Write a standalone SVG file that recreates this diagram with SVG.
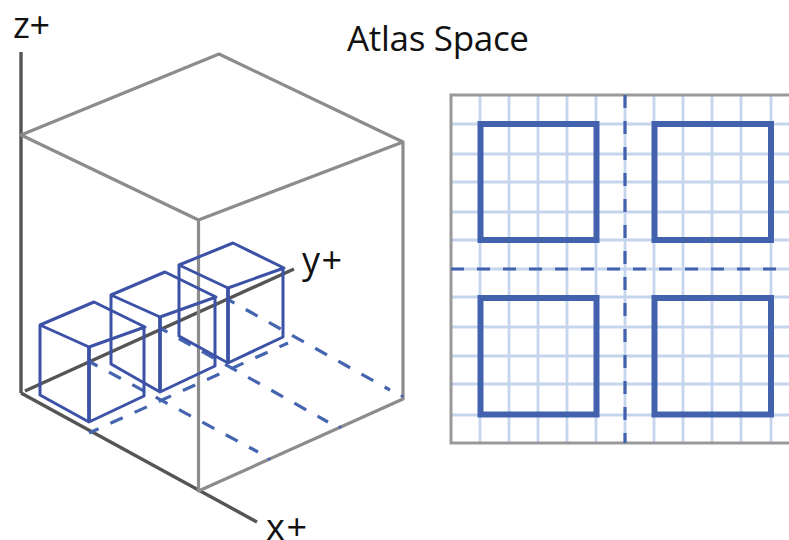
<svg xmlns="http://www.w3.org/2000/svg" width="789" height="540" viewBox="0 0 789 540">
<style>
.t{font-family:"Open Sans","Noto Sans","Liberation Sans",sans-serif;fill:#111}
.box{fill:none;stroke:#8c8c8c;stroke-width:3.2;stroke-linejoin:round}
.axis{fill:none;stroke:#555;stroke-width:3.4}
.cube{fill:none;stroke:#3c52a6;stroke-width:3;stroke-linejoin:round}
.cubev{fill:none;stroke:#3c52a6;stroke-width:3.8}
.floor{fill:none;stroke:#4565b0;stroke-width:3.2;stroke-dasharray:13.500 13}
.dot{fill:#4565b0}
.grid{fill:none;stroke:#c5d5ee;stroke-width:2.8}
.mid{fill:none;stroke:#4262ae;stroke-width:3.200;stroke-dasharray:13 13}
.sq{fill:none;stroke:#4262ae;stroke-width:6}
.frame{fill:none;stroke:#999;stroke-width:3}
</style>
<rect width="789" height="540" fill="#fff"/>
<g id="connectors">
<path class="axis" d="M21 52V393M21 393L257 522M25 391L294 269"/>
</g>
<g id="atlas-box">
<path class="box" d="M21 135L219 54L403 142L198.500 220ZM198.500 220V491L403 399V142"/>
</g>
<g id="floor-lines">
<path class="floor" stroke-dashoffset="3" d="M89 433L288 343"/>
<path class="floor" stroke-dashoffset="5" d="M90 362L258 452"/>
<path class="floor" stroke-dashoffset="5" d="M160 328L328 422"/>
<path class="floor" stroke-dashoffset="5" d="M227 299L390 390"/>
<circle class="dot" cx="269" cy="459" r="1.6"/>
<circle class="dot" cx="340" cy="427" r="1.6"/>
<circle class="dot" cx="402" cy="396" r="1.6"/>
</g>
<g id="cube-1">
<path class="cube" d="M40 325L94 302L145 327L89 347ZM40 325V395L89 422L144 396V327"/>
<path class="cubev" d="M89 347V422"/>
</g>
<g id="cube-2">
<path class="cube" d="M111 295L165 272L216 297L160 317ZM111 295V364L160 392L215 366V297"/>
<path class="cubev" d="M160 317V392"/>
</g>
<g id="cube-3">
<path class="cube" d="M179 265L233 243L284 268L228 288ZM179 265V336L228 363L283 337V268"/>
<path class="cubev" d="M228 288V363"/>
</g>
<g id="grid-panel">
<path class="grid" d="M480 95V443M509 95V443M538 95V443M567 95V443M596 95V443M625 95V443M654 95V443M683 95V443M712 95V443M741 95V443M771 95V443"/>
<path class="grid" d="M451 124H789M451 154H789M451 182H789M451 212H789M451 240H789M451 269H789M451 297H789M451 327H789M451 356H789M451 384H789M451 415H789"/>
<path class="frame" d="M789 95H451V443H789"/>
<path class="mid" d="M625 95V443"/>
<path class="mid" d="M451 269H789"/>
</g>
<g id="square-tl"><rect class="sq" x="480.500" y="124" width="116" height="116"/></g>
<g id="square-tr"><rect class="sq" x="654.500" y="124" width="116.500" height="116"/></g>
<g id="square-bl"><rect class="sq" x="480.500" y="298" width="116" height="116.500"/></g>
<g id="square-br"><rect class="sq" x="654.500" y="298" width="116.500" height="116.500"/></g>
<text class="t" x="347" y="50.500" font-size="35" textLength="182">Atlas Space</text>
<text class="t" x="13" y="37.500" font-size="36" textLength="37">z+</text>
<text class="t" x="302" y="273" font-size="36" textLength="40">y+</text>
<text class="t" x="266" y="539.500" font-size="36" textLength="41">x+</text>
</svg>
